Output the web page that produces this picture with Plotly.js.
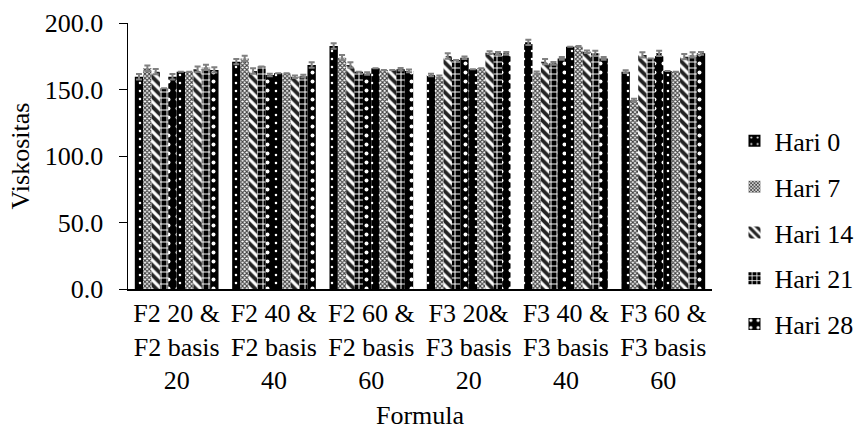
<!DOCTYPE html>
<html>
<head>
<meta charset="utf-8">
<script src="https://cdn.plot.ly/plotly-3.0.1.min.js"></script>
<style>
html,body{margin:0;padding:0;background:#fff;}
#chart{width:856px;height:430px;}
</style>
</head>
<body>
<div id="chart"></div>
<script>
const categories = ["F2 20 &<br>F2 basis<br>20", "F2 40 &<br>F2 basis<br>40", "F2 60 &<br>F2 basis<br>60",
                    "F3 20&<br>F3 basis<br>20", "F3 40 &<br>F3 basis<br>40", "F3 60 &<br>F3 basis<br>60"];
const dayNames = ["Hari 0", "Hari 7", "Hari 14", "Hari 21", "Hari 28"];

// formula series
const hari0F  = [159.6, 170.9, 182.7, 160.9, 185.5, 163.4];
const hari7F  = [166.0, 173.4, 173.9, 159.6, 162.6, 142.1];
const hari14F = [163.4, 163.9, 168.4, 175.2, 170.9, 176.0];
const hari21F = [150.9, 167.2, 163.4, 172.2, 169.7, 173.4];
const hari28F = [159.6, 160.9, 162.0, 173.9, 173.4, 177.2];
// basis series
const hari0B  = [163.4, 162.2, 166.0, 165.2, 182.2, 164.0];
const hari7B  = [163.4, 162.2, 164.7, 166.0, 182.7, 163.4];
const hari14B = [165.2, 159.6, 164.7, 177.7, 178.4, 174.7];
const hari21B = [166.7, 160.0, 165.2, 177.2, 177.2, 176.0];
const hari28B = [164.7, 168.4, 164.0, 177.2, 173.4, 177.2];
// error (SD)
const err0F  = [2, 2, 2, 1, 2, 1];
const err7F  = [2, 2, 2, 1, 1, 1];
const err14F = [2, 2, 2, 2, 2, 2];
const err21F = [0, 0, 0, 0, 1, 0];
const err28F = [2, 1, 1, 1, 1, 2];
const err0B  = [0, 0, 0, 0, 0, 0];
const err7B  = [0, 0, 0, 0, 0, 0];
const err14B = [2, 1, 0, 1, 1, 2];
const err21B = [2, 1, 1, 1, 2, 2];
const err28B = [2, 2, 1, 1, 1, 1];

const formulaVals = [hari0F, hari7F, hari14F, hari21F, hari28F];
const basisVals = [hari0B, hari7B, hari14B, hari21B, hari28B];
const formulaErr = [err0F, err7F, err14F, err21F, err28F];
const basisErr = [err0B, err7B, err14B, err21B, err28B];

const patterns = [
  {shape: ".", bgcolor: "#000000", fgcolor: "#ffffff", size: 8, solidity: 0.08},
  {shape: "x", bgcolor: "#ffffff", fgcolor: "#444444", size: 3, solidity: 0.6},
  {shape: "\\", bgcolor: "#ffffff", fgcolor: "#222222", size: 7, solidity: 0.55},
  {shape: "+", bgcolor: "#000000", fgcolor: "#ffffff", size: 6, solidity: 0.3},
  {shape: ".", bgcolor: "#000000", fgcolor: "#ffffff", size: 9, solidity: 0.15}
];

const traces = [];
function addSet(vals, errs, show) {
  vals.forEach((v, i) => {
    traces.push({
      type: "bar",
      name: dayNames[i],
      legendgroup: dayNames[i],
      showlegend: show,
      x: categories,
      y: v,
      marker: {color: patterns[i].bgcolor, line: {width: 0},
               pattern: Object.assign({fillmode: "replace"}, patterns[i])},
      error_y: {type: "data", array: errs[i], visible: true, color: "#808080", thickness: 2, width: 3}
    });
  });
}
addSet(formulaVals, formulaErr, true);
addSet(basisVals, basisErr, false);

const FAMILY = "Liberation Serif";
function mkFont() { return {family: FAMILY, size: 26, color: "#000000"}; }

const layout = {
  width: 856, height: 430,
  margin: {l: 128, r: 143.5, t: 23, b: 141, autoexpand: false},
  paper_bgcolor: "#fff", plot_bgcolor: "#fff",
  font: mkFont(),
  barmode: "group", bargap: 0.14, bargroupgap: 0,
  showlegend: true,
  legend: {x: 1.0385, xanchor: "left", y: 0.645, yanchor: "top", font: mkFont(),
           tracegroupgap: 9, traceorder: "grouped", bgcolor: "rgba(0,0,0,0)"},
  xaxis: {
    type: "category",
    showline: true, linecolor: "#000", linewidth: 1.5,
    ticks: "", showgrid: false, zeroline: false,
    tickfont: mkFont(), tickangle: 0,
    title: {text: "Formula", font: mkFont(), standoff: 20}
  },
  yaxis: {
    range: [0, 200], dtick: 50, tick0: 0, tickformat: ".1f",
    showline: true, linecolor: "#000", linewidth: 1.5,
    ticks: "outside", ticklen: 8, tickcolor: "#000", tickwidth: 1,
    showgrid: false, zeroline: false,
    tickfont: mkFont(), ticklabelstandoff: 10,
    title: {text: "Viskositas", font: mkFont(), standoff: 7}
  }
};

Plotly.newPlot("chart", traces, layout, {displayModeBar: false, staticPlot: true});
</script>
</body>
</html>
